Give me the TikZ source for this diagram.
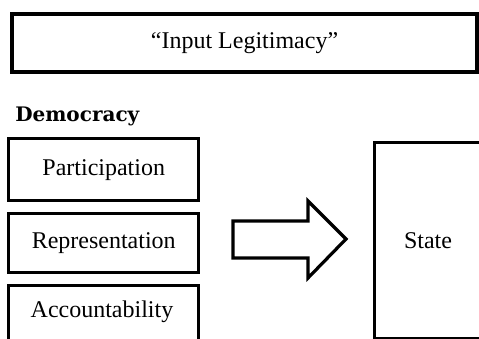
\documentclass[tikz,border=0pt]{standalone}
\usepackage{fontspec}
\setmainfont{Liberation Serif}
\newfontfamily\headfont{DejaVu Serif}
\begin{document}
\begin{tikzpicture}[x=0.75pt,y=-0.75pt,
  label/.style={font=\fontsize{18}{21}\selectfont},
  box/.style={draw=black,line width=2.6pt,inner sep=0pt,anchor=north west,label},
  blockarrow/.style={draw=black,line width=2.4pt,fill=white,line join=miter}]
\useasboundingbox (0,0) rectangle (479,339);
\clip (0,0) rectangle (479,339);
% heading bar
\node[box,line width=3pt,minimum width=465*0.75pt,minimum height=58*0.75pt] (input) at (10,12) {``Input Legitimacy''};
% section title
\node[anchor=base west,inner sep=0pt,font=\headfont\bfseries\fontsize{15}{18}\selectfont] (democ) at (15,121) {Democracy};
% the three components of democracy
\node[box,minimum width=190*0.75pt,minimum height=62*0.75pt] (part) at (7,137) {Participation};
\node[box,minimum width=190*0.75pt,minimum height=59*0.75pt] (repr) at (7,212) {Representation};
\node[box,minimum width=190*0.75pt,minimum height=80*0.75pt] (acco) at (7,284) {};
\node[label] (accotext) at (102,312) {Accountability};
% the state
\node[box,line width=2.4pt,minimum width=112*0.75pt,minimum height=196*0.75pt] (state) at (373,141) {};
\node[label] (statetext) at (428,241) {State};
% block arrow from the components to the state
\coordinate (tip) at (346,239);
\draw[blockarrow] (233,221) -- (308,221) -- (308,201) -- (tip) -- (308,278) -- (308,258) -- (233,258) -- cycle;
\end{tikzpicture}
\end{document}
